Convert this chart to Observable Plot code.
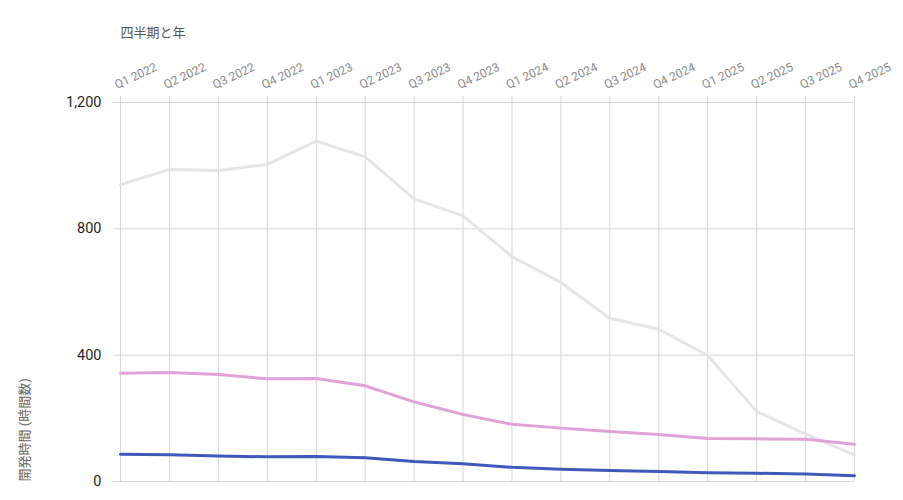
<!DOCTYPE html>
<html><head><meta charset="utf-8">
<script src="https://cdn.jsdelivr.net/npm/d3@7"></script>
<script src="https://cdn.jsdelivr.net/npm/@observablehq/plot@0.6"></script>
<style>body{margin:0;background:#fff}#chart svg{display:block}</style>
</head><body><div id="chart"></div>
<script>
const quarters = ["Q1 2022","Q2 2022","Q3 2022","Q4 2022","Q1 2023","Q2 2023","Q3 2023","Q4 2023","Q1 2024","Q2 2024","Q3 2024","Q4 2024","Q1 2025","Q2 2025","Q3 2025","Q4 2025"];
const seriesA = [940, 988, 985, 1004, 1078, 1028, 895, 841, 712, 630, 517, 482, 399, 222, 150, 84];
const seriesB = [343, 345, 339, 325, 326, 303, 252, 212, 181, 169, 158, 149, 136, 135, 134, 118];
const seriesC = [86, 85, 81, 78, 79, 75, 63, 56, 45, 39, 35, 32, 28, 26, 24, 18];
const yTicks = [0, 400, 800, 1200];
const xTitle = "四半期と年";
const yTitle = "開発時間 (時間数)";

const toRows = (vals) => quarters.map((q, i) => ({q, v: vals[i]}));
const font = "Roboto, 'Noto Sans CJK JP', sans-serif";

const chart = Plot.plot({
  width: 903, height: 500,
  marginTop: 102, marginLeft: 120, marginRight: 49, marginBottom: 19,
  style: {fontFamily: font, background: "#fff"},
  x: {type: "point", domain: quarters, padding: 0, round: false},
  y: {domain: [0, 1200]},
  marks: [
    Plot.gridX({stroke: "#d6d6d6", strokeOpacity: 1}),
    Plot.gridY({ticks: yTicks, stroke: "#d6d6d6", strokeOpacity: 1}),
    Plot.axisX({anchor: "top", tickSize: 7, stroke: "#d6d6d6", text: null, label: null}),
    Plot.axisX({anchor: "top", tickRotate: -25, tickSize: 0, tickPadding: 17, dx: -5, fill: "#8a8a8a", fontSize: 12, textAnchor: "start", label: null}),
    Plot.axisY({ticks: yTicks, tickSize: 7, tickPadding: 12, stroke: "#d6d6d6", fill: "#1f1f1f", fontSize: 14.5, tickFormat: d3.format(","), label: null}),
    Plot.line(toRows(seriesA), {x: "q", y: "v", stroke: "#e5e5e5", strokeWidth: 3}),
    Plot.line(toRows(seriesB), {x: "q", y: "v", stroke: "#e0a2d8", strokeWidth: 3}),
    Plot.line(toRows(seriesC), {x: "q", y: "v", stroke: "#3d59ba", strokeWidth: 3}),
    Plot.text([xTitle], {frameAnchor: "top-left", textAnchor: "start", dy: -75, fontSize: 13, fill: "#555"}),
    Plot.text([yTitle], {frameAnchor: "bottom-left", rotate: -90, textAnchor: "start", dx: -92, fontSize: 13, fill: "#666"})
  ]
});
document.getElementById("chart").appendChild(chart);
</script>
</body></html>
